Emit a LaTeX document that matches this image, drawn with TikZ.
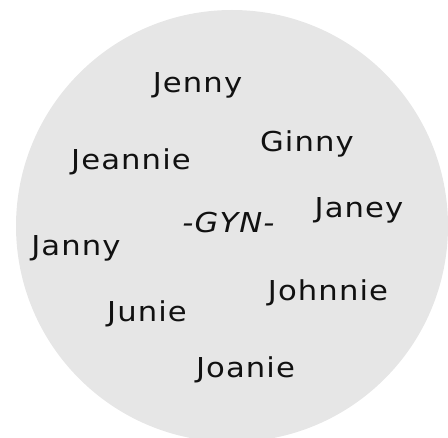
\documentclass[tikz,border=0pt]{standalone}
\usepackage{fontspec}
\setmainfont{DejaVu Sans}[LetterSpace=4,FakeStretch=1.12]
\definecolor{disc}{HTML}{E6E6E6}
\definecolor{ink}{HTML}{111111}
\begin{document}
\begin{tikzpicture}[x=1pt,y=-1pt,
  namebox/.style={anchor=base,inner sep=0pt,text=ink,font=\fontsize{27.4}{30}\selectfont}]
\useasboundingbox (0,0) rectangle (448,438);
\clip (0,0) rectangle (448,438);
\fill[disc] (232,226) circle[radius=216];
\node[namebox] (jenny) at (197.5,93) {Jenny};
\node[namebox] (ginny) at (307,152) {Ginny};
\node[namebox] (jeannie) at (131,170) {Jeannie};
\node[namebox] (janey) at (359,218) {Janey};
\node[namebox,font=\fontsize{27.4}{30}\selectfont\itshape] (gyn) at (228.5,233) {-GYN-};
\node[namebox] (janny) at (76,256) {Janny};
\node[namebox] (johnnie) at (328,301) {Johnnie};
\node[namebox] (junie) at (147,322) {Junie};
\node[namebox] (joanie) at (245.5,378) {Joanie};
\end{tikzpicture}
\end{document}
